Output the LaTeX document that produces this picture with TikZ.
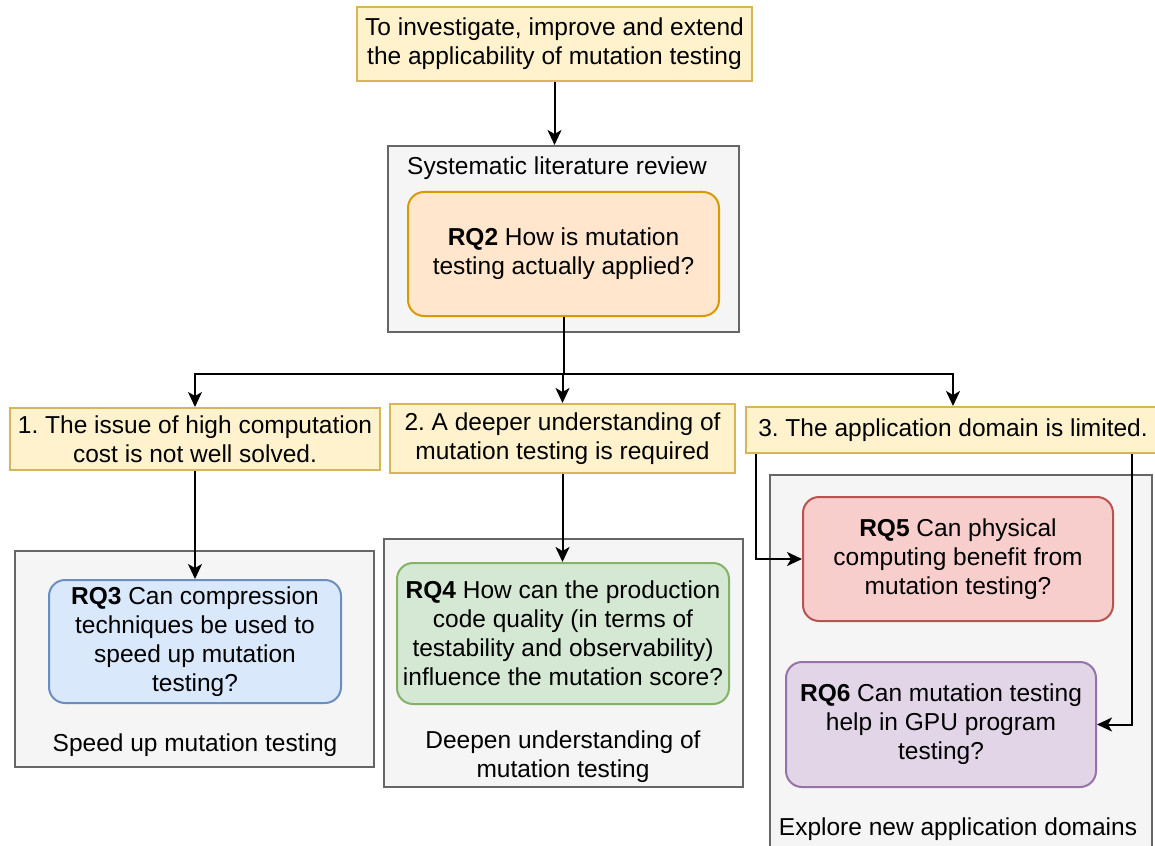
\documentclass[tikz,border=0pt]{standalone}
\usepackage{fontspec}
\setmainfont{Liberation Sans}
\usetikzlibrary{arrows.meta}
\frenchspacing
\newcommand\dfont{\fontsize{12.25}{14.5}\selectfont}
\definecolor{yfill}{HTML}{FFF2CC}\definecolor{ydraw}{HTML}{D6B656}
\definecolor{gfill}{HTML}{F5F5F5}\definecolor{gdraw}{HTML}{666666}
\definecolor{ofill}{HTML}{FFE6CC}\definecolor{odraw}{HTML}{D79B00}
\definecolor{bfill}{HTML}{DAE8FC}\definecolor{bdraw}{HTML}{6C8EBF}
\definecolor{grfill}{HTML}{D5E8D4}\definecolor{grdraw}{HTML}{82B366}
\definecolor{rfill}{HTML}{F8CECC}\definecolor{rdraw}{HTML}{B85450}
\definecolor{pfill}{HTML}{E1D5E7}\definecolor{pdraw}{HTML}{9673A6}
\tikzset{
  base/.style={draw, line width=1pt, align=center, inner sep=0pt, font=\dfont},
  ybox/.style={base, fill=yfill, draw=ydraw},
  gbox/.style={base, fill=gfill, draw=gdraw},
  rq/.style={base, rounded corners=8pt},
  lbl/.style={align=center, inner sep=0pt, font=\dfont},
  arr/.style={line width=1pt, -{Stealth[length=7.5pt,width=7pt,inset=2pt]}},
  ln/.style={line width=1pt}
}
\begin{document}
\begin{tikzpicture}[x=0.5pt,y=-0.5pt]
\useasboundingbox (0,0) rectangle (1155,845);
% top
\node[ybox, minimum width=197.5pt, minimum height=37pt] (top) at (554.5,44)
  {To investigate, improve and extend\\the applicability of mutation testing};
% SLR
\node[gbox, minimum width=175.5pt, minimum height=93pt] (slr) at (563.5,239) {};
\node[lbl] (slrl) at (557,168) {Systematic literature review};
\node[rq, fill=ofill, draw=odraw, minimum width=155.5pt, minimum height=62pt] (rq2) at (563.5,254)
  {\textbf{RQ2} How is mutation\\testing actually applied?};
% problem boxes
\node[ybox, minimum width=185pt, minimum height=31pt] (b1) at (195,439)
  {1. The issue of high computation\\cost is not well solved.};
\node[ybox, minimum width=172.5pt, minimum height=34.5pt] (b2) at (562.5,438.5)
  {2. A deeper understanding of\\mutation testing is required};
\node[ybox, minimum width=207pt, minimum height=23pt] (b3) at (953,430)
  {3. The application domain is limited.};
% containers
\node[gbox, minimum width=179.5pt, minimum height=108pt] (c1) at (194.5,659) {};
\node[lbl] (c1l) at (195,745) {Speed up mutation testing};
\node[rq, fill=bfill, draw=bdraw, minimum width=146pt, minimum height=61.5pt] (rq3) at (195,641.5)
  {\textbf{RQ3} Can compression\\techniques be used to\\speed up mutation\\testing?};
\node[gbox, minimum width=179.5pt, minimum height=124pt] (c2) at (563.5,662.5) {};
\node[lbl] (c2l) at (563,756.5) {Deepen understanding of\\mutation testing};
\node[rq, fill=grfill, draw=grdraw, minimum width=166pt, minimum height=70.5pt] (rq4) at (563,633.5)
  {\textbf{RQ4} How can the production\\code quality (in terms of\\testability and observability)\\influence the mutation score?};
\node[gbox, minimum width=191pt, minimum height=192.5pt] (c3) at (961,667.5) {};
\node[lbl] (c3l) at (958,829) {Explore new application domains};
\node[rq, fill=rfill, draw=rdraw, minimum width=155pt, minimum height=62pt] (rq5) at (958,559)
  {\textbf{RQ5} Can physical\\computing benefit from\\mutation testing?};
\node[rq, fill=pfill, draw=pdraw, minimum width=155pt, minimum height=62.5pt] (rq6) at (941,724.5)
  {\textbf{RQ6} Can mutation testing\\help in GPU program\\testing?};
% connectors
\draw[arr] (top.south) -- (top.south |- slr.north);
\coordinate (bus) at (563.5,374);
\draw[ln] (rq2.south) -- (bus);
\draw[arr] (bus) -| (b1.north);
\draw[arr] (bus) -- (bus -| b2.north) -- (b2.north);
\draw[arr] (bus) -| (b3.north);
\draw[arr] (b1.south) -- (rq3.north);
\draw[arr] (b2.south) -- (b2.south |- rq4.north);
\draw[arr] ([xshift=5.5pt]b3.south west) |- (rq5.west);
\draw[arr] ([xshift=-14.5pt]b3.south east) |- (rq6.east);
\end{tikzpicture}
\end{document}
